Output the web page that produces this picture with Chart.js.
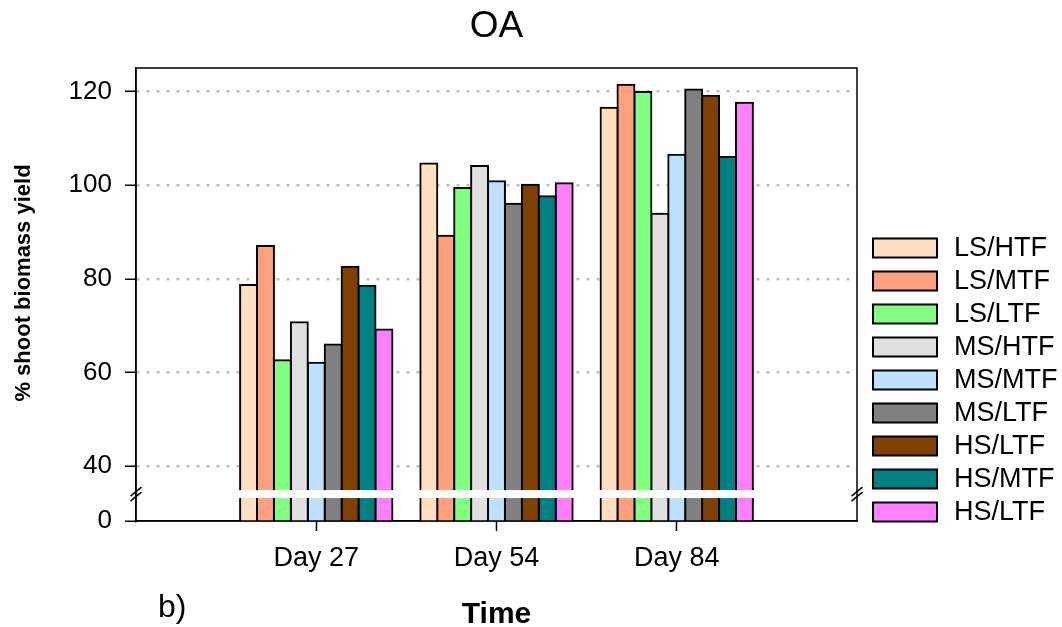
<!DOCTYPE html>
<html>
<head>
<meta charset="utf-8">
<script src="https://cdn.jsdelivr.net/npm/chart.js@4.4.0/dist/chart.umd.min.js"></script>
<style>
  html, body { margin: 0; padding: 0; background: #fff; }
</style>
</head>
<body>
<canvas id="chart" width="1062" height="627"></canvas>
<script>
// categories (empty slots at both ends keep the groups away from the frame)
const days = ['Day 27', 'Day 54', 'Day 84'];
const treatments = ['LS/HTF', 'LS/MTF', 'LS/LTF', 'MS/HTF', 'MS/MTF', 'MS/LTF', 'HS/LTF', 'HS/MTF', 'HS/LTF'];
const colors = ['#FFDFBF', '#FFA07F', '#80FF80', '#E0E0E0', '#BFDFFF', '#808080', '#804000', '#008080', '#FF80FF'];

// % shoot biomass yield per treatment: Day 27, Day 54, Day 84
const lsHtf = [78.7, 104.6, 116.5];
const lsMtf = [87.0, 89.2, 121.4];
const lsLtf = [62.6, 99.4, 119.9];
const msHtf = [70.7, 104.1, 93.9];
const msMtf = [62.1, 100.8, 106.5];
const msLtf = [66.0, 96.0, 120.4];
const hsLtf = [82.6, 100.1, 119.1];
const hsMtf = [78.5, 97.6, 106.0];
const hsLtf2 = [69.2, 100.4, 117.6];
const series = [lsHtf, lsMtf, lsLtf, msHtf, msMtf, msLtf, hsLtf, hsMtf, hsLtf2];

// y axis: "0" sits just below the axis break
const yTicks = [40, 60, 80, 100, 120];
const axisZero = 28.3;
const axisTop = 125;
const breakLow = 33.2;
const breakHigh = 34.9;

const FONT = 'Liberation Sans, Arial, Helvetica, sans-serif';
Chart.defaults.font.family = FONT;
Chart.defaults.color = '#000';

const extras = {
  id: 'extras',
  afterDatasetsDraw(chart) {
    // white band through the bars at the axis break
    const { ctx, chartArea: a, scales: { y } } = chart;
    const top = y.getPixelForValue(breakHigh);
    const bot = y.getPixelForValue(breakLow);
    ctx.save();
    ctx.fillStyle = '#fff';
    ctx.fillRect(a.left + 1, top, a.right - a.left - 2, bot - top);
    ctx.restore();
  },
  afterDraw(chart) {
    const { ctx, chartArea: a, scales: { y } } = chart;
    ctx.save();
    // frame
    ctx.strokeStyle = '#000';
    ctx.lineWidth = 1.5;
    ctx.strokeRect(a.left, a.top, a.right - a.left, a.bottom - a.top);

    // break marks on both sides
    const cy = y.getPixelForValue((breakLow + breakHigh) / 2);
    ctx.lineWidth = 1.5;
    [a.left, a.right].forEach(x => {
      [-2.5, 2.5].forEach(off => {
        ctx.beginPath();
        ctx.moveTo(x - 5.5, cy + off + 4.5);
        ctx.lineTo(x + 5.5, cy + off - 4.5);
        ctx.stroke();
      });
    });

    // y axis title (sits a little above the axis middle in the original)
    ctx.save();
    ctx.translate(24, 283);
    ctx.rotate(-Math.PI / 2);
    ctx.font = 'bold 22px ' + FONT;
    ctx.textAlign = 'center';
    ctx.textBaseline = 'middle';
    ctx.fillStyle = '#000';
    ctx.fillText('% shoot biomass yield', 0, 0);
    ctx.restore();

    // legend
    ctx.font = '27px ' + FONT;
    ctx.textBaseline = 'middle';
    ctx.textAlign = 'left';
    chart.data.datasets.forEach((ds, i) => {
      const top = 238.5 + i * 33;
      ctx.fillStyle = ds.backgroundColor;
      ctx.fillRect(873, top, 64, 19);
      ctx.lineWidth = 2;
      ctx.strokeRect(873, top, 64, 19);
      ctx.fillStyle = '#000';
      ctx.fillText(ds.label, 954, top + 10);
    });

    // panel tag
    ctx.font = '32px ' + FONT;
    ctx.textBaseline = 'alphabetic';
    ctx.fillText('b)', 158, 617);
    ctx.restore();
  }
};

new Chart(document.getElementById('chart'), {
  type: 'bar',
  data: {
    labels: ['', ...days, ''],
    datasets: series.map((vals, i) => ({
      label: treatments[i],
      data: [null, ...vals, null],
      backgroundColor: colors[i],
      borderColor: '#000',
      borderWidth: 2,
      inflateAmount: 1,
      categoryPercentage: 0.845,
      barPercentage: 1.0
    }))
  },
  options: {
    responsive: false,
    animation: false,
    layout: { padding: { left: 0, right: 205, top: 0, bottom: 0 } },
    plugins: {
      legend: { display: false },
      tooltip: { enabled: false },
      title: {
        display: true,
        text: 'OA',
        fullSize: false,
        font: { size: 37, weight: 'normal', lineHeight: 1 },
        padding: { top: 8, bottom: 23 }
      }
    },
    scales: {
      x: {
        offset: false,
        grid: {
          offset: false,
          drawOnChartArea: false,
          tickLength: 10,
          tickWidth: 1.5,
          tickColor: ctx => (ctx.index === 0 || ctx.index === 4) ? 'rgba(0,0,0,0)' : '#000'
        },
        border: { color: '#000', width: 1.5 },
        ticks: { font: { size: 27 }, padding: 11, maxRotation: 0, autoSkip: false },
        title: {
          display: true,
          text: 'Time',
          font: { size: 30, weight: 'bold', lineHeight: 0.8 },
          padding: { top: 0, bottom: 0 }
        },
        afterFit(scale) { scale.height = 106; }
      },
      y: {
        min: axisZero,
        max: axisTop,
        afterBuildTicks(scale) {
          scale.ticks = [axisZero, ...yTicks].map(v => ({ value: v }));
        },
        ticks: {
          font: { size: 26 },
          padding: 13,
          callback: v => (v === axisZero ? '0' : String(v))
        },
        grid: {
          color: ctx => (ctx.tick && ctx.tick.value === axisZero) ? 'rgba(0,0,0,0)' : '#BEBEBE',
          lineWidth: 2.5,
          tickLength: 11,
          tickWidth: 1.5,
          tickColor: '#000'
        },
        border: { color: '#000', width: 1.5, dash: [3, 7] },
        afterFit(scale) { scale.width = 136; }
      }
    }
  },
  plugins: [extras]
});
</script>
</body>
</html>
